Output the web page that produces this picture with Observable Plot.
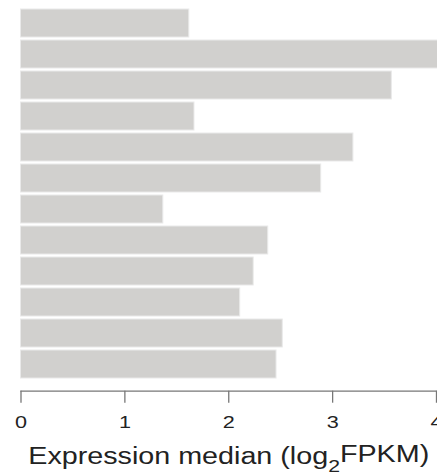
<!DOCTYPE html>
<html>
<head>
<meta charset="utf-8">
<script src="https://cdn.jsdelivr.net/npm/d3@7"></script>
<script src="https://cdn.jsdelivr.net/npm/@observablehq/plot@0.6"></script>
<style>
  html, body { margin: 0; padding: 0; background: #fff; overflow: hidden; }
  svg { display: block; }
</style>
</head>
<body>
<div id="chart"></div>
<script>
// Data (top to bottom)
const categories = ["c1","c2","c3","c4","c5","c6","c7","c8","c9","c10","c11","c12"];
const values = [1.62, 4.05, 3.57, 1.67, 3.20, 2.89, 1.37, 2.38, 2.24, 2.11, 2.52, 2.46];
const xTicks = [0, 1, 2, 3, 4];
const xLabelMain = "Expression median (log";
const xLabelSub = "2";
const xLabelEnd = "FPKM)";

const data = categories.map((c, i) => ({name: c, value: values[i]}));

const chart = Plot.plot({
  width: 437,
  height: 475,
  marginLeft: 20.5,
  marginRight: 1,
  marginTop: 5,
  marginBottom: 84.3,
  style: {fontFamily: "'Liberation Sans', Arial, sans-serif", background: "#fff", color: "#222"},
  x: {domain: [0, 4]},
  y: {domain: categories, axis: null, paddingInner: 0.11, paddingOuter: 0.055, insetBottom: 10.1},
  marks: [
    Plot.barX(data, {x: "value", y: "name", fill: "#d1d0ce", stroke: "#e9e9e9", strokeWidth: 1}),
    Plot.frame({anchor: "bottom", stroke: "#777", strokeWidth: 1.3}),
    Plot.axisX({
      ticks: xTicks,
      tickFormat: "d",
      tickSize: 12,
      tickPadding: 13,
      stroke: "#777",
      strokeWidth: 1.3,
      fontSize: 16,
      fill: "#222",
      label: xLabelMain + xLabelSub + xLabelEnd,
      labelAnchor: "center",
      labelArrow: "none",
      labelOffset: 73
    })
  ]
});

document.getElementById("chart").appendChild(chart);

// Stretch tick labels horizontally like the reference
d3.select(chart).selectAll('g[aria-label="x-axis tick label"] text').each(function() {
  const w = this.getComputedTextLength();
  d3.select(this).attr("textLength", w * 1.35).attr("lengthAdjust", "spacingAndGlyphs");
});

// Axis label with subscript
const lab = d3.select(chart).select('g[aria-label="x-axis label"] text');
if (!lab.empty()) {
  lab.text(null).style("font-size", "23px");
  lab.append("tspan").text(xLabelMain);
  lab.append("tspan").text(xLabelSub).attr("dy", "0.45em").style("font-size", "17px");
  lab.append("tspan").text(xLabelEnd).attr("dy", "-0.45em");
  lab.attr("textLength", 401).attr("lengthAdjust", "spacingAndGlyphs");
}
</script>
</body>
</html>
